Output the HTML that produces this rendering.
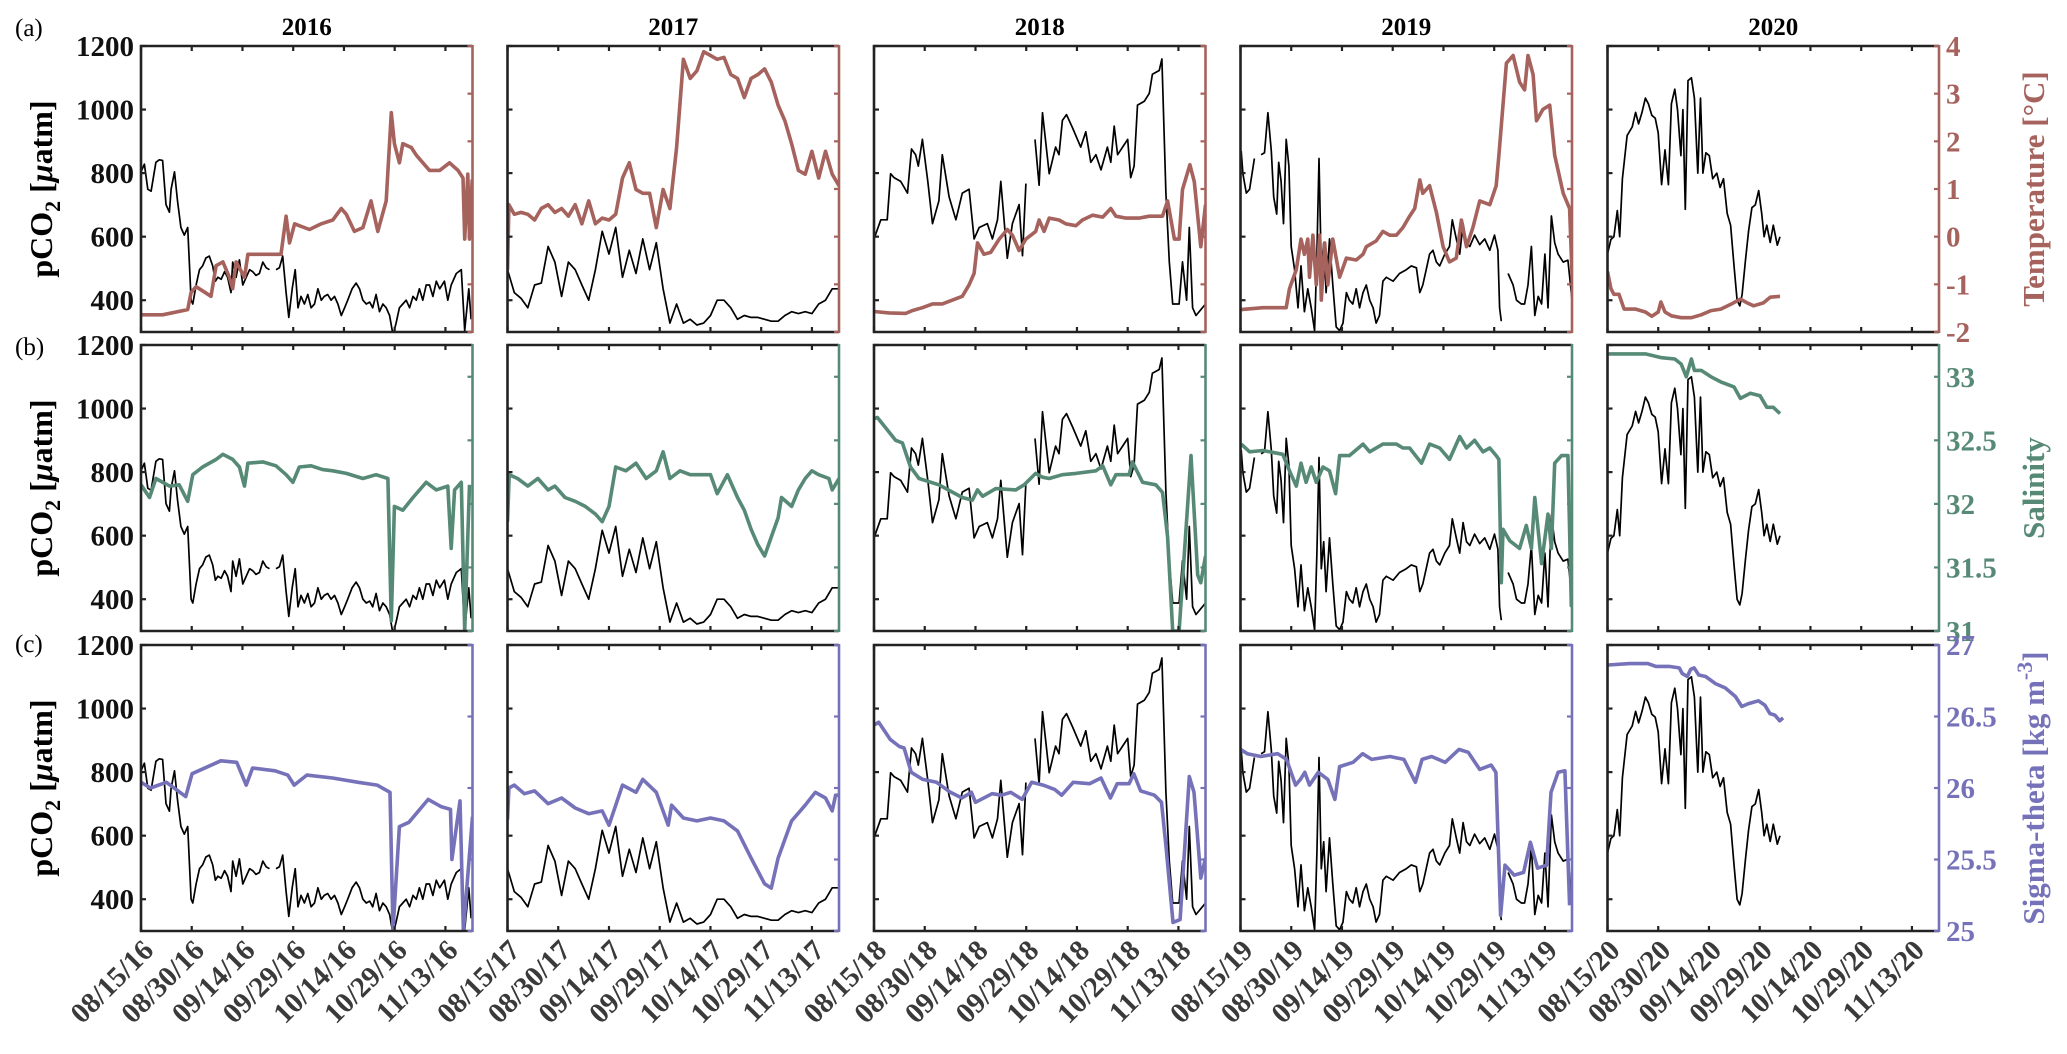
<!DOCTYPE html>
<html><head><meta charset="utf-8"><style>
html,body{margin:0;padding:0;background:#fff;}
svg{display:block;font-family:"Liberation Serif",serif;}
</style></head><body>
<svg id="chart" width="2067" height="1054" viewBox="0 0 2067 1054" xmlns="http://www.w3.org/2000/svg"></svg>
<script>
// ---------- data: days since 08/15 and values ----------
const years = ["2016","2017","2018","2019","2020"];
const tickDays = [0,15,30,45,60,75,90];
const tickDates = ["08/15","08/30","09/14","09/29","10/14","10/29","11/13"];
const pco2Ticks = [400,600,800,1000,1200];
const tempTicks = [-2,-1,0,1,2,3,4];
const salTicks = [31,31.5,32,32.5,33];
const sigTicks = [25,25.5,26,26.5,27];

const co2Days2016 = [0,1,2,3,4.4,5.4,6.4,7.4,8.4,8.9,9.9,10.8,11.8,12.8,13.8,14.8,15.3,16.3,17.3,18.2,19.2,20.2,21.2,22,22.7,23.7,24.7,25.6,26.6,27.1,28.1,29.1,30.1,31.1,32.1,33,34,35,36,37,38,39,39.9,40.9,41.9,42.9,43.7,44.7,45.6,46.4,47.3,48.3,49.3,50.3,51.3,52.3,53.3,54.2,55.2,56.2,57.2,58.2,59.2,60.2,61.1,62.4,63.6,64.6,65.6,66.6,67.6,68.5,69.5,70.5,71.5,72.5,73.5,74.5,75.4,76.4,77.4,78.4,79.4,80.4,81.4,82.3,83.3,84.3,85.3,86.3,87.3,88.3,89.7,90.7,91.7,93.2,94.7,95.7,96.9,97.6];
const co2Vals2016 = [804,828,749,743,834,842,840,701,677,749,804,713,629,605,629,400,388,448,496,508,533,539,508,460,472,466,490,472,424,520,472,527,448,472,496,490,478,484,520,502,496,null,496,502,539,424,346,436,496,376,412,388,418,376,388,436,400,412,418,400,412,388,352,376,400,436,454,436,400,388,394,376,418,364,388,376,352,291,328,376,388,400,376,412,400,436,400,448,448,412,460,436,460,400,448,484,496,304,436,340];
const tempDays2016 = [0,6.4,13.8,14.8,16.3,20.7,22.2,24.2,26.1,27.1,28.1,30.6,31.6,36,41.4,42.9,43.9,45.4,46.8,49.8,53.3,56.7,59.2,60.7,63.1,65.6,68,70,72.5,74,74.9,76.4,77.4,79.9,81.4,85.3,88.3,91.2,93.7,95.2,95.7,96.6,97.1,97.9];
const tempVals2016 = [-1.64,-1.64,-1.53,-1.17,-1.05,-1.25,-0.61,-0.53,-0.85,-1.09,-0.53,-0.85,-0.37,-0.37,-0.37,0.43,-0.13,0.27,0.23,0.15,0.27,0.35,0.59,0.47,0.11,0.19,0.75,0.11,0.75,2.6,1.95,1.55,1.95,1.87,1.71,1.39,1.39,1.55,1.39,1.23,-0.05,1.31,-0.05,1.2];
const salDays2016 = [0,2.5,4.4,8.4,11.3,13.8,15.3,18.2,22.2,24.2,27.1,29.1,30.6,31.6,36,39.9,42.9,44.9,46.8,50.3,53.7,56.7,60.7,65.6,69.5,73,74,74.9,77.4,80.4,84.3,87.3,90.7,91.7,92.7,94.7,95.7,97.1];
const salVals2016 = [32.15,32.05,32.2,32.14,32.15,32.02,32.23,32.29,32.35,32.39,32.35,32.29,32.14,32.32,32.33,32.3,32.23,32.17,32.29,32.3,32.27,32.26,32.24,32.2,32.23,32.2,31.08,31.98,31.95,32.05,32.17,32.11,32.14,31.65,32.11,32.17,31.0,32.15];
const sigDays2016 = [0,2.8,7.5,13.2,15.1,23.6,28.3,31.1,33,39.6,43.4,45.3,49,56.6,64.2,69.8,73.6,74.5,76.4,79.2,84.9,88.7,91.5,91.9,94.3,95.3,98];
const sigVals2016 = [26.04,26.0,26.04,25.94,26.1,26.19,26.18,26.02,26.14,26.12,26.09,26.02,26.09,26.07,26.04,26.02,25.97,25.01,25.73,25.76,25.92,25.87,25.85,25.5,25.91,25.0,25.8];

const co2Days2017 = [0,2,4,6,8,10,12,14,16,18,20,22,24,26,28,30,32,34,36,38,40,42,44,46,48,50,52,54,56,58,60,62,64,66,68,70,72,74,76,78,80,82,84,86,88,90,92,94,96,98];
const co2Vals2017 = [496,424,406,376,448,454,569,520,412,520,496,448,400,496,617,545,629,472,557,484,593,496,581,436,328,388,328,340,322,328,352,400,400,376,340,352,346,346,340,334,334,352,364,358,364,358,388,400,436,436];
const tempDays2017 = [0,0.4,2,4,6,8,10,12,14,16,18,20,22,24,26,28,30,32,34,36,38,40,42,44,46,48,50,52,54,56,58,60,62,64,66,68,70,72,74,76,78,80,82,84,86,88,90,92,94,96,98];
const tempVals2017 = [-0.7,0.67,0.47,0.51,0.47,0.35,0.59,0.67,0.51,0.59,0.43,0.67,0.27,0.75,0.27,0.39,0.35,0.47,1.23,1.55,0.99,0.91,0.91,0.19,0.99,0.59,1.87,3.72,3.32,3.48,3.88,3.8,3.72,3.76,3.4,3.32,2.92,3.32,3.4,3.52,3.24,2.76,2.43,1.95,1.39,1.31,1.79,1.23,1.79,1.31,1.07];
const salDays2017 = [0,0.5,3,6,9,12,14,17,20,23,26,28,30,32,35,38,41,44,46,48,51,54,57,60,62,65,68,70,72,74,76,78,80,81,84,86,88,90,92,95,96,98];
const salVals2017 = [31.86,32.23,32.2,32.14,32.2,32.11,32.14,32.05,32.02,31.98,31.92,31.86,31.98,32.29,32.26,32.32,32.2,32.26,32.41,32.2,32.26,32.23,32.23,32.23,32.08,32.23,32.05,31.95,31.8,31.68,31.59,31.74,31.89,32.05,31.98,32.11,32.2,32.26,32.23,32.2,32.11,32.2];
const sigDays2017 = [0,0.4,2,5,8,12,16,20,24,28,30,34,38,40,44,47.5,48.5,52,56,60,64,68,72,76,78,80,84,88,91,94,96,97,98];
const sigVals2017 = [25.78,26.0,26.02,25.96,25.98,25.89,25.93,25.86,25.82,25.84,25.74,26.02,25.97,26.06,25.97,25.74,25.88,25.79,25.77,25.79,25.77,25.7,25.51,25.33,25.3,25.51,25.77,25.88,25.97,25.93,25.84,25.95,25.95];

const co2Days2018 = [0,2,3.9,4.9,5.9,7.9,9.9,11.1,12.3,13.1,14.3,15.9,17.3,19.2,20.2,22.2,24.2,26.1,28.1,29.6,31.1,33.5,35,36.5,37.5,39.4,40.9,42.9,43.9,44.9,46,47.6,48.8,49.8,51.8,53.7,54.7,55.7,56.9,58.7,61.1,62.6,64.1,65.6,67.1,69,70,71,72,73.5,75,75.9,76.9,77.9,79.9,81.4,82.3,84.3,85.1,86.3,87.3,88.3,90.2,91.2,92.4,93.2,94.2,95.2,98];
const co2Vals2018 = [593,653,653,798,786,774,737,876,858,822,906,774,641,713,858,725,653,737,749,593,629,641,593,653,774,532,641,701,540,767,null,906,762,990,798,882,858,966,984,942,882,930,834,858,810,882,834,948,858,882,906,786,822,1014,1026,1051,1111,1123,1159,737,521,388,388,521,400,629,376,352,388];
const tempDays2018 = [0,4.4,9.4,11.3,14.3,17.3,20.2,23.2,26.1,28.1,29.6,30.6,32.5,34.5,37,39.4,40.9,42.9,44.9,47.8,48.8,50.3,51.8,54.7,56.7,59.7,61.6,64.6,67.6,70,71.5,74.5,78.4,81.4,85.3,86.8,88.8,90.2,91.2,93.4,94.7,96.6,98];
const tempVals2018 = [-1.57,-1.6,-1.61,-1.55,-1.49,-1.41,-1.41,-1.33,-1.25,-1.01,-0.77,-0.13,-0.37,-0.33,-0.05,0.15,0.03,-0.29,-0.05,0.11,0.35,0.11,0.39,0.35,0.27,0.23,0.35,0.45,0.41,0.59,0.43,0.39,0.39,0.43,0.43,0.75,-0.05,-0.05,0.99,1.51,1.15,-0.21,0.67];
const salDays2018 = [0,1,6.4,8.4,10.8,13.3,19.2,26.1,29.1,30.6,32.1,36,41.9,44.4,47.8,49.8,51.8,55.7,59.7,65.6,67.6,70,71.5,75.4,76.4,79.4,83.3,85.3,86.8,88.3,90.2,93.7,95.7,96.6,98];
const salVals2018 = [32.67,32.68,32.5,32.48,32.29,32.2,32.15,32.05,32.03,32.11,32.06,32.12,32.11,32.15,32.24,32.21,32.2,32.23,32.24,32.26,32.3,32.15,32.23,32.23,32.33,32.17,32.15,32.09,31.74,31.0,31.0,32.38,31.44,31.38,31.59];
const sigDays2018 = [0,1.4,4.8,7.5,8.9,11,14.4,18.5,22.6,26,28.8,30,34.9,37.7,40.4,43.8,46.6,50,53.4,55.5,58.9,63.7,67.1,69.9,71.9,75.4,76.8,78.8,82.9,85,86.4,88.4,90.5,93.2,94.6,96.6,98];
const sigVals2018 = [26.44,26.46,26.34,26.29,26.28,26.11,26.06,26.04,25.97,25.93,25.97,25.9,25.96,25.95,25.97,25.92,26.04,26.02,25.99,25.95,26.04,26.03,26.07,25.93,26.03,26.03,26.1,25.98,25.95,25.9,25.57,25.06,25.08,26.08,25.97,25.37,25.51];

const co2Days2019 = [0.2,0.7,1.7,2.7,4.1,5,6.1,7.1,8.1,9.1,9.8,10.7,11.3,12,12.7,13.5,14.3,15,16,17,17.9,18.9,19.9,20.9,21.9,22.6,23.2,23.9,24.6,25.3,26.3,27.3,28.3,29.3,30.3,31.3,32.2,33.2,34.2,35.2,36.2,37.2,38.2,39.2,40.1,41.1,42.1,43.1,45.1,47,49,50.5,52,53,53.9,54.9,55.9,56.9,57.9,58.9,60.4,61.8,62.6,63.8,64.8,65.8,66.8,67.8,69.2,70.7,72.2,73.7,75.1,76.1,76.6,77.1,78,79.1,80.6,81.6,83,84,85,86,87,88,89,90,90.9,91.9,92.9,93.9,95.4,96.8,97.8,98.3];
const co2Vals2019 = [870,798,737,749,846,null,858,864,990,870,725,671,834,774,641,906,822,569,496,376,508,364,436,376,304,545,846,496,581,424,593,448,316,304,328,424,400,388,436,376,424,448,400,376,328,352,460,472,460,484,496,508,502,424,448,496,545,557,520,508,545,569,653,593,545,641,581,569,605,575,593,557,605,557,376,334,null,484,448,400,388,388,448,569,352,412,388,545,376,665,581,545,520,526,424,364];
const tempDays2019 = [0.2,6.6,13.5,14.5,16.5,17.9,18.9,19.9,20.4,21.4,22.4,23.4,23.9,24.9,25.8,27.3,29.3,31.3,34.2,36.2,37.2,40.1,42.1,44.1,46.1,48,50,51.5,53,53.9,55.9,57.9,59.9,61.8,63.8,65.3,66.8,68.7,70.7,73.7,75.6,76.4,78.6,80.6,82.5,84,85,86.5,87.5,89.4,91.4,92.9,95.4,97.3,98.3];
const tempVals2019 = [-1.53,-1.49,-1.49,-1.09,-0.69,-0.05,-0.37,-0.05,-0.85,0.03,-1.01,0.03,-1.33,-0.13,-1.01,-0.05,-0.85,-0.45,-0.49,-0.37,-0.21,-0.09,0.11,0.03,0.03,0.19,0.43,0.59,1.19,0.91,1.07,0.51,-0.21,-0.53,-0.45,0.35,-0.21,0.19,0.75,0.67,1.07,1.71,3.64,3.8,3.24,3.08,3.8,3.4,2.43,2.67,2.76,1.71,0.91,0.59,-1.33];
const salDays2019 = [0.2,2.7,6.6,12.5,14.5,16.5,17.9,19.4,20.9,22.4,24.4,26.3,28.1,29.3,32.2,36.2,38.2,42.1,46.1,48,50,53.5,55.9,58.9,61.8,64.8,66.8,69.2,71.7,73.7,75.6,76.4,77.1,77.6,79.6,82.5,84.5,86,87,89,90.9,91.9,92.9,94.9,96.8,97.8,98.3];
const salVals2019 = [32.47,32.41,32.42,32.39,32.26,32.14,32.32,32.17,32.29,32.17,32.29,32.26,32.08,32.38,32.38,32.47,32.41,32.47,32.47,32.44,32.44,32.32,32.47,32.44,32.35,32.53,32.44,32.5,32.41,32.44,32.38,32.35,31.38,31.8,31.71,31.65,31.83,31.65,32.05,31.53,31.92,31.65,32.32,32.38,32.38,31.2,31.95];
const sigDays2019 = [0,2,6,11,13.6,16.3,17.7,19,20.4,23,25.8,27.9,29.3,33.3,36.1,38.8,44.2,48.3,51.7,53.7,56.5,60.5,64.6,67.3,70.7,74.1,75.5,76.9,78.2,80.9,83.7,85.7,87.8,90.5,91.8,93.9,95.9,97.3];
const sigVals2019 = [26.27,26.24,26.22,26.24,26.2,26.02,26.06,26.11,26.02,26.11,26.06,25.92,26.15,26.18,26.24,26.2,26.22,26.2,26.04,26.2,26.22,26.18,26.27,26.25,26.13,26.16,26.11,25.11,25.46,25.39,25.41,25.62,25.44,25.46,25.97,26.11,26.12,25.18];

const co2Days2020 = [0,1,1.9,2.9,3.6,4.4,5.8,7.3,8.3,9.2,10.2,11.2,12.1,13.1,14.1,15,16,17,18,18.9,19.9,20.7,21.7,22.3,23,23.8,24.8,25.7,26.7,27.5,28.2,29.1,30.1,31.1,32.3,33.3,34.3,35.4,36.4,37.4,38.3,39.1,39.8,40.8,41.7,42.7,43.7,44.7,45.6,46.3,47.1,48.1,49,50.2,51];
const co2Vals2020 = [545,591,600,682,600,782,918,945,991,955,991,1036,1018,982,973,927,764,873,764,1018,1064,1000,855,1000,686,1091,1100,1036,800,1036,800,864,855,782,800,755,782,673,636,509,400,382,418,527,618,691,700,745,673,600,636,582,636,573,600];
const tempDays2020 = [0,1,1.9,3.4,4.9,8.3,11.2,13.1,15,15.8,17,18.9,21.8,24.8,27.7,30.6,33.5,36.4,39.3,41.3,43.2,46.1,48.1,51];
const tempVals2020 = [-0.73,-1.09,-1.21,-1.21,-1.52,-1.52,-1.58,-1.67,-1.58,-1.37,-1.58,-1.66,-1.7,-1.7,-1.64,-1.55,-1.52,-1.42,-1.31,-1.39,-1.45,-1.39,-1.27,-1.25];
const salDays2020 = [0,6.3,11.2,16,19.9,21.8,23.3,24.8,25.7,27.7,30.6,33.5,37.4,39.3,42.2,45.1,47.1,49,51];
const salVals2020 = [33.18,33.18,33.18,33.15,33.14,33.1,33.0,33.14,33.05,33.05,33.0,32.96,32.92,32.83,32.87,32.85,32.76,32.76,32.71];
const sigDays2020 = [0.2,6.5,11.9,14.3,18.2,21.2,22.1,23.6,24.6,25.6,27,29,31.9,34.8,37.8,39.7,41.7,44.6,46.5,48,49.5,50.9,51.9];
const sigVals2020 = [26.86,26.87,26.87,26.85,26.85,26.84,26.8,26.78,26.83,26.84,26.79,26.78,26.73,26.7,26.64,26.57,26.59,26.61,26.58,26.52,26.51,26.47,26.49];

// ---------- layout ----------
const NS = "http://www.w3.org/2000/svg";
const svg = document.getElementById("chart");
const colL = [141,507.5,874,1240.5,1607.5];
const PW = 331.5;
const rowT = [46,345,645];
const PH = 286;
const XMAX = 98;
const rightRanges = [[-2,4],[31,33.25],[25,27]];
const rightColors = ["#a6625d","#578a76","#7672ba"];
const rightTicks = [tempTicks, salTicks, sigTicks];
const rowVarNames = ["temperature","salinity","sigma-theta"];
const co2Days = [co2Days2016,co2Days2017,co2Days2018,co2Days2019,co2Days2020];
const co2Vals = [co2Vals2016,co2Vals2017,co2Vals2018,co2Vals2019,co2Vals2020];
const rightDays = [
  [tempDays2016,tempDays2017,tempDays2018,tempDays2019,tempDays2020],
  [salDays2016,salDays2017,salDays2018,salDays2019,salDays2020],
  [sigDays2016,sigDays2017,sigDays2018,sigDays2019,sigDays2020]];
const rightVals = [
  [tempVals2016,tempVals2017,tempVals2018,tempVals2019,tempVals2020],
  [salVals2016,salVals2017,salVals2018,salVals2019,salVals2020],
  [sigVals2016,sigVals2017,sigVals2018,sigVals2019,sigVals2020]];

function xScale(c,d){ return colL[c] + d/XMAX*PW; }
function yLeft(r,v){ return rowT[r] + PH - (v-300)/900*PH; }
function yRight(r,v){ const [a,b]=rightRanges[r]; return rowT[r] + PH - (v-a)/(b-a)*PH; }
function mk(tag, attrs){ const e=document.createElementNS(NS,tag); for(const k in attrs) e.setAttribute(k,attrs[k]); return e; }
function pathFrom(c, days, vals, yf){
  let d="", pen=false;
  for(let i=0;i<days.length;i++){
    if(vals[i]===null){pen=false;continue;}
    d += (pen?"L":"M") + xScale(c,days[i]).toFixed(1) + "," + yf(vals[i]).toFixed(1);
    pen=true;
  }
  return d;
}

const defs = mk("defs",{});
svg.appendChild(defs);

for(let r=0;r<3;r++){
  for(let c=0;c<5;c++){
    const g = mk("g",{});
    
    
    svg.appendChild(g);
    const cp = mk("clipPath",{id:"cp"+r+c});
    cp.appendChild(mk("rect",{x:colL[c],y:rowT[r],width:PW,height:PH}));
    defs.appendChild(cp);
    // data lines
    const black = mk("path",{d:pathFrom(c,co2Days[c],co2Vals[c],v=>yLeft(r,v)),fill:"none",stroke:"#000","stroke-width":1.7,"stroke-linejoin":"round","clip-path":"url(#cp"+r+c+")"});
    
    
    g.appendChild(black);
    const col = mk("path",{d:pathFrom(c,rightDays[r][c],rightVals[r][c],v=>yRight(r,v)),fill:"none",stroke:rightColors[r],"stroke-width":3.6,"stroke-linejoin":"round","clip-path":"url(#cp"+r+c+")"});
    
    
    g.appendChild(col);
    // frame
    const fr = mk("path",{d:`M${colL[c]+PW},${rowT[r]}H${colL[c]}V${rowT[r]+PH}H${colL[c]+PW}`,fill:"none",stroke:"#222","stroke-width":2.6});
    
    
    g.appendChild(fr);
    const re = mk("line",{x1:colL[c]+PW,x2:colL[c]+PW,y1:rowT[r]-1,y2:rowT[r]+PH+1,stroke:rightColors[r],"stroke-width":2.6});
    
    
    g.appendChild(re);
    // x ticks
    for(let i=0;i<tickDays.length;i++){
      const x = xScale(c,tickDays[i]);
      const t = mk("path",{d:`M${x},${rowT[r]}v5M${x},${rowT[r]+PH}v-5`,stroke:"#222","stroke-width":2.2});
      
      
      g.appendChild(t);
      if(r===2){
        const tx = mk("text",{x:x+14,y:952,"text-anchor":"end","font-size":29,"font-weight":"bold",fill:"#3a3a3a",transform:`rotate(-45 ${x+14} 952)`});
        tx.textContent = tickDates[i] + "/" + years[c].slice(2);
        
        
        svg.appendChild(tx);
      }
    }
    // left ticks
    for(const v of pco2Ticks){
      const y = yLeft(r,v);
      const t = mk("line",{x1:colL[c],x2:colL[c]+5,y1:y,y2:y,stroke:"#222","stroke-width":2.2});
      
      
      g.appendChild(t);
      if(c===0){
        const tx = mk("text",{x:134,y:y+10,"text-anchor":"end","font-size":29,"font-weight":"bold",fill:"#111"});
        tx.textContent = String(v);
        
        
        svg.appendChild(tx);
      }
    }
    // right ticks
    for(const v of rightTicks[r]){
      const y = yRight(r,v);
      const t = mk("line",{x1:colL[c]+PW-5,x2:colL[c]+PW,y1:y,y2:y,stroke:rightColors[r],"stroke-width":2.2});
      
      
      g.appendChild(t);
      if(c===4){
        const tx = mk("text",{x:1946,y:y+10,"font-size":29,"font-weight":"bold",fill:rightColors[r]});
        tx.textContent = String(v);
        
        
        svg.appendChild(tx);
      }
    }
  }
}
// year titles
for(let c=0;c<5;c++){
  const t = mk("text",{x:colL[c]+PW/2,y:35,"text-anchor":"middle","font-size":25,"font-weight":"bold",fill:"#000"});
  t.textContent = years[c];
  
  
  svg.appendChild(t);
}
// panel letters
const letters = ["(a)","(b)","(c)"];
const letterY = [36,355,652];
for(let r=0;r<3;r++){
  const t = mk("text",{x:15,y:letterY[r],"font-size":25,fill:"#000"});
  t.textContent = letters[r];
  
  
  svg.appendChild(t);
}
// left axis titles
const rowCenters = [189,488,788];
for(let r=0;r<3;r++){
  const t = mk("text",{x:0,y:0,"text-anchor":"middle","font-size":32,"font-weight":"bold",fill:"#000",transform:`translate(52 ${rowCenters[r]}) rotate(-90)`});
  t.innerHTML = 'pCO<tspan font-size="22" dy="8">2</tspan><tspan dy="-8"> [</tspan><tspan font-style="italic">μ</tspan>atm]';
  
  
  svg.appendChild(t);
}
// right axis titles
const rTitles = ['Temperature [°C]','Salinity','Sigma-theta [kg m<tspan font-size="22" dy="-12">-3</tspan><tspan dy="12">]</tspan>'];
for(let r=0;r<3;r++){
  const t = mk("text",{x:0,y:0,"text-anchor":"middle","font-size":31,"font-weight":"bold",fill:rightColors[r],transform:`translate(2044 ${rowCenters[r]}) rotate(-90)`});
  t.innerHTML = rTitles[r];
  
  
  svg.appendChild(t);
}
</script>
</body></html>
